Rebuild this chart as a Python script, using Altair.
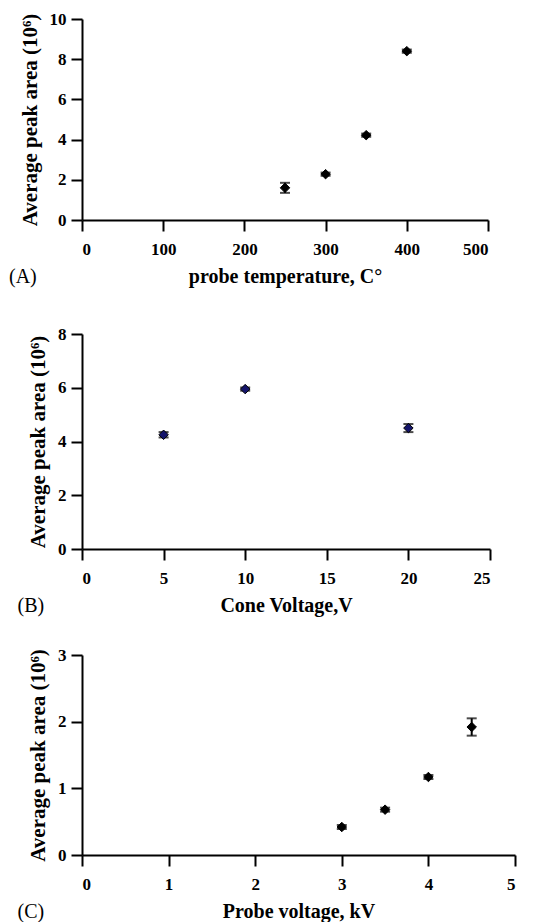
import altair as alt
import pandas as pd

# Panel A
a_x = [250, 300, 350, 400]
a_y = [1.6, 2.28, 4.22, 8.4]
a_err = [0.25, 0.08, 0.08, 0.08]
# Panel B
b_x = [5, 10, 20]
b_y = [4.25, 5.95, 4.5]
b_err = [0.1, 0.06, 0.15]
# Panel C
c_x = [3.0, 3.5, 4.0, 4.5]
c_y = [0.42, 0.68, 1.17, 1.92]
c_err = [0.03, 0.03, 0.03, 0.13]

FONT = "Liberation Serif"

def axis_x(title, values):
    return alt.Axis(title=title, values=values, grid=False, domainColor="black",
                    domainWidth=2, tickColor="black", tickWidth=2, tickSize=11,
                    labelFont=FONT, labelFontWeight="bold", labelFontSize=17,
                    labelColor="black", labelPadding=10,
                    titleFont=FONT, titleFontWeight="bold", titleFontSize=20,
                    titleColor="black", titlePadding=9, format="d")

def axis_y(values):
    return alt.Axis(title="Average peak area (10⁶)", values=values, grid=False,
                    domainColor="black", domainWidth=2, tickColor="black",
                    tickWidth=2, tickSize=11, labelFont=FONT, labelFontWeight="bold",
                    labelFontSize=17, labelColor="black", labelPadding=5,
                    titleFont=FONT, titleFontWeight="bold", titleFontSize=21,
                    titleColor="black", titlePadding=9, format="d")

def panel(xs, ys, errs, xdom, xvals, ydom, yvals, xtitle, tag, w, h, color):
    df = pd.DataFrame({"x": xs, "y": ys, "lo": [y - e for y, e in zip(ys, errs)],
                       "hi": [y + e for y, e in zip(ys, errs)]})
    xenc = alt.X("x:Q", scale=alt.Scale(domain=xdom, nice=False, zero=False),
                 axis=axis_x(xtitle, xvals))
    yenc = alt.Y("y:Q", scale=alt.Scale(domain=ydom, nice=False), axis=axis_y(yvals))
    err = alt.Chart(df).mark_errorbar(ticks={"size": 10, "thickness": 2, "color": "black"},
                                      thickness=2, color="black").encode(
        x=xenc, y=alt.Y("lo:Q", scale=alt.Scale(domain=ydom, nice=False), axis=axis_y(yvals)),
        y2="hi:Q")
    pts = alt.Chart(df).mark_point(shape="diamond", filled=True, size=90, color=color,
                                   stroke="black", strokeWidth=1, opacity=1).encode(x=xenc, y=yenc)
    return alt.layer(err, pts).properties(
        width=w, height=h,
        title=alt.TitleParams(tag, orient="bottom", anchor="start", frame="bounds",
                              font=FONT, fontSize=20, fontWeight="normal", color="black",
                              offset=-19, dx=-10))

pa = panel(a_x, a_y, a_err, [0, 500], [0, 100, 200, 300, 400, 500], [0, 10],
           [0, 2, 4, 6, 8, 10], "probe temperature, C°", "(A)", 406, 201, "black")
pb = panel(b_x, b_y, b_err, [0, 25], [0, 5, 10, 15, 20, 25], [0, 8],
           [0, 2, 4, 6, 8], "Cone Voltage,V", "(B)", 408, 215, "#14146a")
pc = panel(c_x, c_y, c_err, [0, 5], [0, 1, 2, 3, 4, 5], [0, 3],
           [0, 1, 2, 3], "Probe voltage, kV", "(C)", 433, 200, "black")

chart = alt.vconcat(pa, alt.vconcat(pb, pc, spacing=30), spacing=38).configure_view(
    stroke=None).properties(
    background="white", padding={"left": 1, "top": 2, "right": 5, "bottom": 0})

chart.save("out.html", embed_options={"renderer": "svg", "actions": False})
